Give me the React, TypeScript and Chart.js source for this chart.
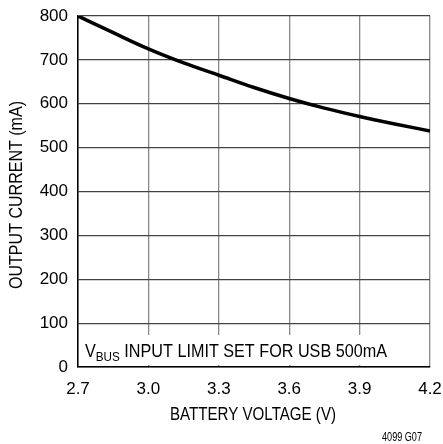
import React, { useEffect, useRef } from "react";
import { Chart, registerables } from "chart.js";

Chart.register(...registerables);

const voltages = [2.7, 2.85, 3.0, 3.15, 3.3, 3.45, 3.6, 3.75, 3.9, 4.05, 4.2];
const currents = [800, 762, 725, 693, 665, 637, 612, 590, 571, 554, 538];
const xTicks = [2.7, 3.0, 3.3, 3.6, 3.9, 4.2];
const yTicks = [0, 100, 200, 300, 400, 500, 600, 700, 800];
const xTitle = "BATTERY VOLTAGE (V)";
const yTitle = "OUTPUT CURRENT (mA)";
const noteMain = "V";
const noteSub = "BUS";
const noteRest = " INPUT LIMIT SET FOR USB 500mA";
const figId = "4099 G07";

const FONT = '"Liberation Sans", Arial, sans-serif';

function fitText(ctx: any, text: string, x: number, y: number, width: number) {
  const w = ctx.measureText(text).width;
  const s = Math.min(1, width / w);
  ctx.save();
  ctx.translate(x, y);
  ctx.scale(s, 1);
  ctx.fillText(text, 0, 0);
  ctx.restore();
}

export default function App() {
  const ref = useRef<HTMLCanvasElement | null>(null);
  useEffect(() => {
    const canvas = ref.current;
    if (!canvas) return;
    const textPlugin = {
      id: "texts",
      beforeDatasetsDraw(chart: any) {
        const ctx = chart.ctx;
        const xs = chart.scales.x;
        const ys = chart.scales.y;
        ctx.save();
        const left = xs.getPixelForValue(2.7) + 4;
        const top = ys.getPixelForValue(73);
        const bottom = ys.getPixelForValue(0) - 2;
        ctx.fillStyle = "#fff";
        ctx.fillRect(left, top, 310, bottom - top);
        ctx.fillStyle = "#000";
        ctx.textBaseline = "alphabetic";
        ctx.textAlign = "left";
        const base = ys.getPixelForValue(23);
        // measure total natural width
        ctx.font = `18px ${FONT}`;
        const w1 = ctx.measureText(noteMain).width;
        const w3 = ctx.measureText(noteRest).width;
        ctx.font = `13px ${FONT}`;
        const w2 = ctx.measureText(noteSub).width;
        const s = 302 / (w1 + w2 + w3);
        ctx.translate(left + 3, base);
        ctx.scale(s, 1);
        ctx.font = `18px ${FONT}`;
        ctx.fillText(noteMain, 0, 0);
        ctx.font = `13px ${FONT}`;
        ctx.fillText(noteSub, w1, 4);
        ctx.font = `18px ${FONT}`;
        ctx.fillText(noteRest, w1 + w2, 0);
        ctx.restore();
      },
      afterDraw(chart: any) {
        const ctx = chart.ctx;
        ctx.save();
        ctx.fillStyle = "#000";
        ctx.textAlign = "center";
        ctx.textBaseline = "middle";
        ctx.font = `18px ${FONT}`;
        fitText(ctx, xTitle, 253, 415, 166);
        ctx.save();
        ctx.translate(17, 195);
        ctx.rotate(-Math.PI / 2);
        fitText(ctx, yTitle, 0, 0, 188);
        ctx.restore();
        ctx.font = `12px ${FONT}`;
        fitText(ctx, figId, 402, 438, 40);
        ctx.restore();
      },
    };
    const chart = new Chart(canvas, {
      type: "line",
      data: {
        datasets: [
          {
            data: voltages.map((v, i) => ({ x: v, y: currents[i] })),
            borderColor: "#000",
            borderWidth: 3.5,
            pointRadius: 0,
            cubicInterpolationMode: "monotone",
            fill: false,
          },
        ],
      },
      options: {
        animation: false,
        responsive: false,
        devicePixelRatio: 1,
        layout: { padding: { top: 16, right: 13, left: 0, bottom: 0 } },
        plugins: { legend: { display: false }, tooltip: { enabled: false } },
        scales: {
          x: {
            type: "linear",
            min: 2.7,
            max: 4.2,
            afterBuildTicks: (s: any) => {
              s.ticks = xTicks.map((v) => ({ value: v }));
            },
            afterFit: (s: any) => {
              s.height = 77;
              s.paddingLeft = 0;
              s.paddingRight = 0;
            },
            ticks: {
              callback: (v: any) => Number(v).toFixed(1),
              color: "#000",
              font: { family: FONT, size: 17 },
              padding: 12,
              maxRotation: 0,
              autoSkip: false,
            },
            grid: { color: "#888", lineWidth: 1.3, drawTicks: false },
            border: { display: true, color: "#000", width: 1.5 },
          },
          y: {
            type: "linear",
            min: 0,
            max: 800,
            afterBuildTicks: (s: any) => {
              s.ticks = yTicks.map((v) => ({ value: v }));
            },
            afterFit: (s: any) => {
              s.width = 78;
              s.paddingTop = 0;
              s.paddingBottom = 0;
            },
            ticks: {
              color: "#000",
              font: { family: FONT, size: 17 },
              padding: 10,
              autoSkip: false,
            },
            grid: { color: "#444", lineWidth: 1.2, drawTicks: false },
            border: { display: true, color: "#000", width: 1.5 },
          },
        },
      },
      plugins: [textPlugin],
    } as any);
    return () => chart.destroy();
  }, []);
  return (
    <div style={{ position: "fixed", left: 0, top: 0, width: 443, height: 444, background: "#fff" }}>
      <canvas ref={ref} width={443} height={444} />
    </div>
  );
}
